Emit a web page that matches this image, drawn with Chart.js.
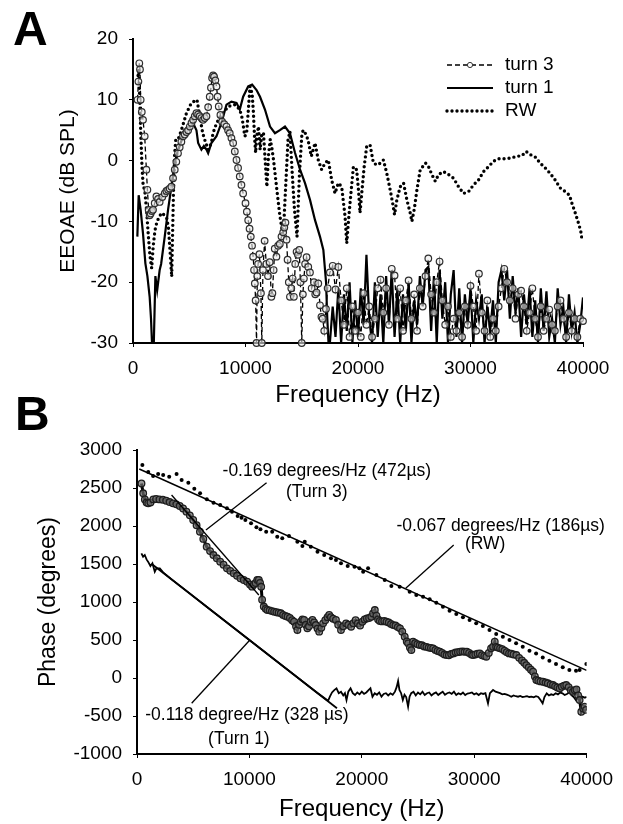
<!DOCTYPE html>
<html lang="en">
<head>
<meta charset="UTF-8">
<title>EEOAE and phase vs frequency</title>
<script src="https://cdn.jsdelivr.net/npm/chart.js"></script>
<style>
  body, html { margin: 0; padding: 0; background: #fff; width: 623px; height: 824px; overflow: hidden; }
  canvas { position: absolute; left: 0; }
  #panelA { top: 0; }
  #panelB { top: 380px; }
</style>
</head>
<body>
<canvas id="panelA" width="623" height="412"></canvas>
<canvas id="panelB" width="623" height="444"></canvas>
<script>
const FONT = '"Liberation Sans", Arial, Helvetica, sans-serif';

// ---- tick labels
const freqTicks = [0, 10000, 20000, 30000, 40000];
const dbTicks = [-30, -20, -10, 0, 10, 20];
const phaseTicks = [-1000, -500, 0, 500, 1000, 1500, 2000, 2500, 3000];

// ---- panel A: EEOAE level (dB SPL)
const freqA_noise = [17500, 17750, 18000, 18250, 18500, 18750, 19000, 19250, 19500, 19750,
  20000, 20250, 20500, 20750, 21000, 21250, 21500, 21750, 22000, 22250, 22500, 22750,
  23000, 23250, 23500, 23750, 24000, 24250, 24500, 24750, 25000, 25250, 25500, 25750,
  26000, 26250, 26500, 26750, 27000, 27250, 27500, 27750, 28000, 28250, 28500, 28750,
  29000, 29250, 29500, 29750, 30000, 30250, 30500, 30750, 31000, 31250, 31500, 31750,
  32000, 32250, 32500, 32750, 33000, 33250, 33500, 33750, 34000, 34250, 34500, 34750,
  35000, 35250, 35500, 35750, 36000, 36250, 36500, 36750, 37000, 37250, 37500, 37750,
  38000, 38250, 38500, 38750, 39000, 39250, 39500, 39750, 40000];

const freqA_turn3 = [400, 480, 560, 620, 682, 780, 890, 1040, 1190, 1280, 1390, 1480, 1570, 1680, 1780,
  1930, 2080, 2230, 2370, 2600, 2820, 2970, 3120, 3260, 3410, 3560, 3710, 3850, 4000, 4150, 4300,
  4450, 4600, 4750, 4900, 5050, 5200, 5340, 5490, 5640, 5790, 5930, 6080, 6230, 6380, 6530, 6680,
  6820, 6930, 7030, 7120, 7210, 7320, 7420, 7520, 7620, 7770, 7920, 8110, 8310, 8450, 8600, 8750,
  8900, 9050, 9200, 9340, 9490, 9640, 9790, 10000, 10120, 10240, 10360, 10470, 10580, 10680, 10760,
  10830, 10900, 10980, 11050, 11120, 11240, 11370, 11450, 11550, 11700, 11850, 12000, 12150, 12300,
  12390, 12500, 12600, 12750, 12900, 13050, 13200, 13350, 13450, 13550, 13650, 13740, 13850, 13950,
  14070, 14190, 14300, 14420, 14540, 14660, 14780, 14880, 15000, 15100, 15190, 15300, 15430, 15580,
  15730, 15880, 16080, 16200, 16320, 16470, 16620, 16750, 16860, 17000, 17150, 17300]
  .concat(freqA_noise);
const dbA_turn3 = [10, 13, 16, 15, 10, 8, 6.7, 4, -1.5, -4.8, -8.1, -9, -8.7, -8.3, -8.1,
  -7, -5.9, -6.3, -6.8, -6, -5.4, -5, -4.8, -4.6, -4.3, -2.9, -1.5, -0.2, 1.2, 2.2, 3.1,
  4, 4.3, 4.7, 5, 5.6, 6.2, 6.7, 7.3, 7.8, 7.6, 7.3, 7, 6.7, 7, 7.3, 8.8,
  10.5, 12, 13.6, 14, 13.8, 13.2, 12.2, 10.5, 8.9, 7.5, 6.4, 6, 5.6, 5, 4.5, 3.7,
  2.9, 1.5, 0.1, -1.2, -2.6, -4, -5.4, -7, -8.4, -9.8, -11.2, -12.5, -14, -15.8, -18,
  -20.2, -23, -30, -19, -17, -15.4, -21.8, -30, -18, -13.2, -17, -19, -16.7, -22.4,
  -21.8, -18, -14.5, -15.8, -14, -13.7, -12.5, -11.8, -11, -10.2, -13, -16.3, -20, -22.4,
  -21, -19.4, -22.4, -17, -15, -15.5, -14.7, -20, -30, -22, -19.4, -17, -15.9, -17.5,
  -18.4, -21, -20, -22, -21.7, -20.2, -23.8, -25.7, -26, -28, -24.4, -21,
  // 17500 - 40000
  -18.4, -17.3, -21.2, -17.5, -23, -27, -21, -29, -24, -28,
  -25, -29, -21.8, -27, -24, -29, -26, -21, -19.6, -25, -21, -27,
  -17.8, -18.9, -26, -21, -28, -23, -19.7, -26, -22, -28, -21, -24,
  -19, -16.1, -22, -25, -20, -16.6, -23, -27, -24, -29, -26, -28,
  -25, -29, -24, -27, -20.6, -24, -28, -18.6, -25, -28, -23, -29,
  -26, -28, -24, -21, -17.8, -20, -23, -21, -26, -22, -21.4, -24,
  -28, -25, -21, -26, -29, -24, -28, -26, -24.5, -27, -28, -24,
  -23, -26, -29, -25, -28, -26, -29, -26, -26.4];

const freqA_turn1 = [386, 504, 680, 890, 1100, 1280, 1480, 1600, 1690, 1850, 1990, 2150, 2370, 2500,
  2820, 3115, 3410, 3710, 4000, 4450, 4900, 5340, 5640, 5790, 6080, 6300, 6530, 6680, 6970, 7420,
  7860, 8310, 8750, 9200, 9490, 9790, 10240, 10590, 10980, 11290, 11730, 12180, 12620, 13060,
  13510, 13950, 14400, 14850, 15290, 15740, 16180, 16620, 16920, 17160, 17270, 17380]
  .concat(freqA_noise);
const dbA_turn1 = [-12.5, -5.7, -8.1, -12, -16.9, -19, -22.4, -26, -30, -30, -19, -21.3, -18, -17,
  -12.5, -8.1, -4.3, -0.4, 1.8, 4, 5, 6.2, 5, 2.9, 1.8, 2.4, 1.8, 1.2, 2.9, 4,
  6.2, 9.2, 9.7, 9.5, 8.4, 10.5, 12.2, 12.5, 11.6, 10.5, 8.4, 5.6, 4.5, 5,
  5.6, 4.5, 1.3, -1.5, -3.7, -6.5, -9.8, -12.5, -14.7, -20, -26, -30,
  // 17500 - 40000
  -30, -24, -29, -21, -30, -22, -28, -20, -30, -23,
  -29, -21, -27, -15.5, -26, -30, -20, -29, -22, -30, -19, -27,
  -18, -29, -21, -30, -22, -28, -20, -30, -23, -27, -19, -24,
  -18, -17.5, -28, -19, -30, -18, -26, -20, -30, -22, -18, -29,
  -21, -30, -22, -27, -21, -30, -23, -26, -22, -30, -24, -28,
  -23, -30, -20, -18, -23, -18, -26, -19, -25, -21, -29, -22,
  -27, -21, -29, -23, -30, -21, -28, -21.5, -29, -26, -30, -21,
  -27, -24, -30, -22, -28, -25, -30, -27, -22.5];

const freqA_rw = [450, 520, 600, 700, 800, 900, 1050, 1200, 1350, 1500, 1660, 1800, 1950, 2100, 2300,
  2560, 2800, 3000, 3150, 3300, 3440, 3520, 3600, 3700, 3800, 4000, 4300, 4750, 5190, 5690, 5930,
  6200, 6380, 6680, 6970, 7110, 7400, 7730, 8100, 8460, 9050, 9490, 9700, 9940, 10100, 10240, 10400,
  10590, 10700, 10800, 10900, 11000, 11150, 11300, 11450, 11600, 11750, 11900, 12050, 12200, 12350,
  12500, 12800, 13050, 13350, 13550, 13780, 13950, 14150, 14350, 14580, 14800, 15000, 15120, 15350,
  15560, 15850, 16180, 16470, 16770, 17070, 17360, 17660, 17960, 18250, 18550, 18850, 19000, 19150,
  19290, 19590, 19880, 20050, 20180, 20350, 20550, 20770, 21070, 21370, 21670, 21810, 22260, 22560,
  22860, 23100, 23250, 23450, 23750, 24050, 24350, 24640, 24790, 25000, 25240, 25530, 26000, 26270,
  26570, 26870, 27160, 27600, 28050, 28490, 28940, 29380, 29830, 30270, 30710, 31160, 31600, 32050,
  32490, 32940, 33530, 34120, 34560, 34950, 35300, 35750, 36190, 36640, 37080, 37530, 37970, 38420,
  38800, 39010, 39310, 39600, 39800, 39900];
const dbA_rw = [14, 15, 10, 4, -1, -4, -5, -8, -12, -15.5, -17.7, -14, -11.5, -10.3, -9.3,
  -8.6, -9, -9.5, -11, -15, -19.1, -12, -5, 1, 3.4, 3.4, 5, 7.8, 9.5, 10, 7.3,
  4.5, 3.4, 1.8, 2.9, 4.5, 6, 7.2, 8, 8.9, 9.2, 8.4, 7, 4, 4.5, 8, 12.2,
  11, 8, 4, 1.3, 4, 5.6, 1.8, 4.5, 4.5, 0, -4.3, 1, 3.5, 2,
  0, -5, -9, -12.5, -5, 3.4, 4.8, -2, -8, -12.5, -2, 4, 5, 4.4,
  3.4, 0.7, 2.9, 0.1, -1.5, -0.4, 0.1, -3.2, -5.4, -3.7, -4.3, -9.2, -13.6, -10,
  -7, -1, -1.5, -5, -8.6, -5, -1, 2.3, 2.6, -0.4, -0.7, -0.7, 0.1, -2.1,
  -4.8, -7.2, -8.9, -6.5, -4.3, -3.7, -6.5, -8.6, -10, -8, -4.8, -1.5, -0.4, -1,
  -2.3, -3.4, -2.3, -1.8, -2.3, -2.9, -4.3, -5.4, -5.1, -4, -3.2, -1.8, -1, -0.1,
  0.3, 0.3, 0.4, 0.7, 0.8, 1.5, 1, 0.6, -0.4, -1.2, -2.1, -3.2, -4.5, -5.1,
  -5.7, -7, -8.6, -10.3, -11.6, -12.8];

// ---- panel B: phase (degrees)
const freqB_turn3 = [400, 550, 700, 850, 1000, 1200, 1450, 1700, 2000, 2300, 2600, 2900, 3200, 3500,
  3800, 4100, 4400, 4700, 5000, 5300, 5600, 5900, 6200, 6500, 6800, 7100, 7400, 7700, 8000, 8300,
  8600, 8900, 9200, 9500, 9800, 10050, 10240, 10400, 10550, 10700, 10840, 10950, 11050, 11130, 11280,
  11450, 11600, 11800, 12000, 12200, 12400, 12600, 12800, 13000, 13200, 13400, 13600, 13800, 13970,
  14150, 14270, 14420, 14570, 14720, 14870, 15020, 15160, 15300, 15450, 15610, 15760, 15910, 16060,
  16210, 16400, 16560, 16750, 16950, 17100, 17250, 17450, 17700, 17900, 18150, 18350, 18600, 18800,
  19050, 19250, 19450, 19650, 19850, 20050, 20250, 20450, 20650, 20850, 21000, 21160, 21300, 21450,
  21600, 21800, 22000, 22200, 22400, 22600, 22800, 23000, 23200, 23400, 23600, 23820, 24000, 24120,
  24280, 24410, 24560, 24750, 24950, 25150, 25350, 25550, 25750, 25950, 26150, 26350, 26550, 26750,
  26950, 27150, 27350, 27550, 27750, 27950, 28150, 28350, 28550, 28750, 28950, 29150, 29350, 29550,
  29750, 29900, 30100, 30300, 30500, 30700, 30900, 31080, 31300, 31500, 31680, 31830, 31950, 32100,
  32300, 32500, 32700, 32900, 33100, 33300, 33500, 33750, 34000, 34250, 34450, 34640, 34850, 35050,
  35240, 35400, 35530, 35700, 35900, 36120, 36350, 36550, 36800, 37010, 37200, 37400, 37600, 37800,
  38000, 38190, 38400, 38600, 38790, 38950, 39100, 39250, 39380, 39530, 39700, 39830, 39950];
const phaseB_turn3 = [2560, 2430, 2350, 2310, 2300, 2310, 2350, 2355, 2350, 2345, 2333, 2315, 2298, 2285,
  2263, 2230, 2189, 2140, 2079, 2010, 1925, 1830, 1728, 1670, 1618, 1575, 1531, 1490, 1443, 1410,
  1377, 1345, 1311, 1290, 1268, 1230, 1202, 1230, 1250, 1290, 1290, 1250, 1200, 1030, 940,
  910, 895, 890, 880, 873, 865, 860, 851, 830, 815, 807, 790, 760, 741,
  680, 632, 700, 741, 770, 763, 700, 654, 680, 740, 763, 730, 697, 650,
  610, 660, 719, 760, 800, 829, 800, 780, 763, 700, 632, 680, 719, 700,
  675, 720, 760, 718, 690, 740, 770, 784, 790, 806, 850, 894, 820, 770,
  750, 745, 750, 740, 730, 710, 696, 690, 670, 653, 610, 543, 480, 456,
  400, 367, 478, 460, 445, 434, 430, 415, 410, 400, 395, 390, 370, 355,
  346, 330, 310, 302, 300, 315, 324, 335, 340, 346, 350, 345, 346, 330,
  310, 302, 310, 320, 324, 300, 290, 280, 330, 390, 412, 478, 410, 400,
  390, 380, 360, 340, 324, 320, 310, 302, 265, 230, 200, 170, 140, 110,
  82, 20, -27, -35, -45, -49, -60, -70, -85, -93, -110, -125, -137, -115,
  -100, -93, -120, -160, -180, -160, -150, -230, -290, -444, -400, -378, -420];

const freqB_turn1 = [390, 540, 690, 850, 985, 1194, 1373, 1582, 1731, 2030, 2328, 3000, 4000, 5000,
  6000, 7000, 8000, 9000, 10000, 11000, 12000, 13000, 14000, 15000, 16000, 17000, 17160, 17350,
  17550, 17750, 17950, 18150, 18350, 18500, 18640, 18800, 19000, 19200, 19400, 19600, 19800, 20000,
  20200, 20400, 20600, 20770, 20950, 21150, 21350, 21550, 21750, 21950, 22150, 22350, 22550, 22750,
  22950, 23100, 23230, 23350, 23500, 23650, 23800, 23950, 24120, 24250, 24400, 24600, 24800, 25000,
  25200, 25400, 25600, 25800, 26000, 26200, 26400, 26600, 26800, 27000, 27200, 27400, 27600, 27800,
  28000, 28200, 28400, 28600, 28800, 29000, 29200, 29400, 29600, 29800, 30000, 30200, 30400, 30600,
  30800, 31000, 31230, 31400, 31680, 31900, 32100, 32300, 32500, 32700, 32900, 33100, 33300, 33500,
  33700, 33900, 34100, 34300, 34500, 34700, 34900, 35100, 35300, 35500, 35700, 35900, 36090, 36250,
  36450, 36650, 36850, 37050, 37250, 37450, 37650, 37850, 38050, 38250, 38450, 38650, 38850, 39050,
  39250, 39450, 39650, 39850, 40000];
const phaseB_turn1 = [1640, 1596, 1618, 1560, 1531, 1474, 1509, 1399, 1443, 1443, 1390, 1308, 1192, 1077,
  960, 846, 730, 616, 500, 385, 270, 155, 40, -75, -190, -300, -246, -190,
  -160, -136, -200, -180, -230, -200, -290, -180, -136, -200, -224, -190, -215, -180,
  -210, -190, -160, -136, -246, -200, -220, -190, -246, -210, -200, -230, -202, -220,
  -180, -120, -40, -158, -200, -290, -220, -250, -378, -246, -200, -180, -230, -190,
  -215, -180, -224, -200, -190, -230, -205, -190, -224, -200, -180, -220, -200, -190,
  -210, -180, -224, -200, -215, -190, -224, -205, -200, -190, -215, -200, -224, -200,
  -210, -200, -334, -200, -158, -180, -190, -200, -215, -210, -220, -230, -246, -230,
  -240, -246, -235, -250, -246, -240, -250, -246, -255, -240, -250, -290, -334, -250,
  -202, -230, -215, -224, -200, -215, -190, -202, -224, -210, -190, -224, -250, -290,
  -260, -280, -246, -260, -246];

const freqB_rw = [478, 1000, 1433, 1880, 2328, 2866, 3522, 3970, 4567, 5100, 5612, 6209, 6806, 7403,
  8000, 8448, 8955, 9300, 9642, 10149, 10627, 10985, 11492, 12030, 12477, 12925, 13522, 14268, 14716,
  14925, 15462, 16060, 16657, 17253, 17701, 18149, 18746, 19350, 19790, 20120, 20560, 21300, 22040,
  22630, 23370, 24260, 24850, 25450, 26040, 26630, 27220, 27810, 28410, 29000, 29590, 30180, 30770,
  31360, 31960, 32550, 33140, 33730, 34320, 34920, 35510, 36100, 36690, 37280, 37880, 38470, 39060,
  39380, 39980];
const phaseB_rw = [2803, 2710, 2658, 2684, 2671, 2649, 2684, 2605, 2570, 2490, 2430, 2351, 2307, 2276,
  2232, 2189, 2132, 2110, 2079, 2035, 1982, 1956, 1925, 1925, 1860, 1838, 1868, 1794, 1737,
  1794, 1728, 1662, 1618, 1575, 1553, 1509, 1474, 1465, 1443, 1399, 1443, 1355, 1289,
  1211, 1202, 1136, 1092, 1070, 1035, 991, 938, 885, 842, 798, 763, 719, 684,
  631, 578, 543, 500, 456, 412, 359, 324, 271, 228, 184, 140, 105, 96,
  105, 184];

// linear fits (end points)
const fitFreqRW = [200, 40000], fitPhaseRW = [2750, 100];
const fitFreqT3 = [3075, 10840], fitPhaseT3 = [2408, 1092];
const fitFreqT1 = [1400, 17790], fitPhaseT1 = [1490, -399];

// annotations (data units)
const noteTexts = ['-0.169 degrees/Hz (472\u00b5s)', '(Turn 3)', '-0.067 degrees/Hz (186\u00b5s)', '(RW)',
  '-0.118 degree/Hz (328 \u00b5s)', '(Turn 1)'];
const noteFreq = [16889, 16000, 32356, 30978, 9778, 9067];
const notePhase = [2724, 2447, 2000, 1763, -487, -803];
const leaderFrom = [[6133, 1947], [23911, 1180], [4862, -333]];
const leaderTo = [[11529, 2570], [28178, 1750], [10044, 500]];

const pts = (xs, ys) => xs.map((x, i) => ({ x: x, y: ys[i] }));

function xAxis(height, titlePad) {
  return {
    type: 'linear', min: 0, max: 40000,
    afterBuildTicks: s => { s.ticks = freqTicks.map(v => ({ value: v })); },
    afterFit: s => { s.height = height; },
    border: { display: true, color: '#000', width: 2 },
    grid: { drawOnChartArea: false, drawTicks: true, tickLength: 4, color: '#000', lineWidth: 1 },
    ticks: { color: '#000', font: { family: FONT, size: 19 }, padding: 10, maxRotation: 0, autoSkip: false, callback: v => String(v) },
    title: { display: true, text: 'Frequency (Hz)', color: '#000', font: { family: FONT, size: 24 }, padding: { top: 0, bottom: titlePad } }
  };
}
function yAxis(min, max, ticks, width, title, size, titlePad) {
  return {
    type: 'linear', min: min, max: max,
    afterBuildTicks: s => { s.ticks = ticks.map(v => ({ value: v })); },
    afterFit: s => { s.width = width; },
    border: { display: true, color: '#000', width: 2 },
    grid: { drawOnChartArea: false, drawTicks: true, tickLength: 4, color: '#000', lineWidth: 1 },
    ticks: { color: '#000', font: { family: FONT, size: 19 }, padding: 11, callback: v => String(v) },
    title: { display: true, text: title, color: '#000', font: { family: FONT, size: size }, padding: { top: titlePad, bottom: 0 } }
  };
}

const extrasA = {
  id: 'extrasA',
  afterDraw(chart) {
    const ctx = chart.ctx;
    ctx.save();
    ctx.fillStyle = '#000';
    ctx.font = 'bold 48px ' + FONT;
    ctx.textBaseline = 'alphabetic';
    ctx.fillText('A', 13, 45);
    chart.data.datasets.forEach((ds, i) => {
      const y = 65 + 23 * i;
      ctx.beginPath();
      ctx.setLineDash(ds.borderDash || []);
      ctx.lineCap = ds.borderCapStyle || 'butt';
      ctx.lineWidth = ds.borderWidth;
      ctx.strokeStyle = '#000';
      ctx.moveTo(447, y);
      ctx.lineTo(493, y);
      ctx.stroke();
      ctx.setLineDash([]);
      if (ds.pointRadius > 0) {
        ctx.beginPath();
        ctx.arc(470, y, 2.6, 0, Math.PI * 2);
        ctx.fillStyle = '#fff';
        ctx.fill();
        ctx.lineWidth = 1;
        ctx.strokeStyle = '#333';
        ctx.stroke();
      }
      ctx.fillStyle = '#000';
      ctx.font = '19px ' + FONT;
      ctx.textBaseline = 'middle';
      ctx.fillText(ds.label, 505, y);
    });
    ctx.restore();
  }
};

const extrasB = {
  id: 'extrasB',
  afterDraw(chart) {
    const { ctx, scales: { x, y } } = chart;
    ctx.save();
    ctx.fillStyle = '#000';
    ctx.font = 'bold 48px ' + FONT;
    ctx.textBaseline = 'alphabetic';
    ctx.fillText('B', 15, 50);
    ctx.strokeStyle = '#000';
    ctx.lineWidth = 1.3;
    leaderFrom.forEach((p, i) => {
      ctx.beginPath();
      ctx.moveTo(x.getPixelForValue(p[0]), y.getPixelForValue(p[1]));
      ctx.lineTo(x.getPixelForValue(leaderTo[i][0]), y.getPixelForValue(leaderTo[i][1]));
      ctx.stroke();
    });
    ctx.font = '17.5px ' + FONT;
    ctx.textAlign = 'center';
    ctx.textBaseline = 'middle';
    noteTexts.forEach((t, i) => ctx.fillText(t, x.getPixelForValue(noteFreq[i]), y.getPixelForValue(notePhase[i])));
    ctx.restore();
  }
};

Chart.defaults.font.family = FONT;
Chart.defaults.color = '#000';

new Chart(document.getElementById('panelA'), {
  type: 'scatter',
  data: {
    datasets: [
      { label: 'turn 3', data: pts(freqA_turn3, dbA_turn3), showLine: true, borderColor: '#000', borderWidth: 1.3,
        borderDash: [5, 3], pointRadius: 3.3, pointBorderColor: '#2e2e2e', pointBackgroundColor: 'rgba(235,235,235,0.6)',
        pointBorderWidth: 1.2, clip: 4 },
      { label: 'turn 1', data: pts(freqA_turn1, dbA_turn1), showLine: true, borderColor: '#000', borderWidth: 2.2,
        pointRadius: 0 },
      { label: 'RW', data: pts(freqA_rw, dbA_rw), showLine: true, borderColor: '#000', borderWidth: 3.4,
        borderDash: [0, 5], borderCapStyle: 'round', pointRadius: 0 }
    ]
  },
  options: {
    responsive: false, animation: false,
    layout: { padding: { left: 0, top: 39, right: 40, bottom: 0 } },
    scales: { x: xAxis(69, 2), y: yAxis(-30, 20, dbTicks, 133, 'EEOAE (dB SPL)', 21, 56) },
    plugins: { legend: { display: false }, tooltip: { enabled: false } },
    events: []
  },
  plugins: [extrasA]
});

new Chart(document.getElementById('panelB'), {
  type: 'scatter',
  data: {
    datasets: [
      { label: 'RW fit', data: pts(fitFreqRW, fitPhaseRW), showLine: true, borderColor: '#000', borderWidth: 1.5, pointRadius: 0 },
      { label: 'Turn 3 fit', data: pts(fitFreqT3, fitPhaseT3), showLine: true, borderColor: '#000', borderWidth: 1.3, pointRadius: 0 },
      { label: 'Turn 1 fit', data: pts(fitFreqT1, fitPhaseT1), showLine: true, borderColor: '#000', borderWidth: 1.8, pointRadius: 0 },
      { label: 'RW', data: pts(freqB_rw, phaseB_rw), showLine: false, pointRadius: 2, pointBackgroundColor: '#000', pointBorderWidth: 0 },
      { label: 'turn 3', data: pts(freqB_turn3, phaseB_turn3), showLine: true, borderColor: '#000', borderWidth: 3,
        pointRadius: 3.3, pointBorderColor: '#1e1e1e', pointBackgroundColor: 'rgba(110,110,110,0.7)', pointBorderWidth: 1.3 },
      { label: 'turn 1', data: pts(freqB_turn1, phaseB_turn1), showLine: true, borderColor: '#000', borderWidth: 1.8, pointRadius: 0 }
    ]
  },
  options: {
    responsive: false, animation: false,
    layout: { padding: { left: 0, top: 70, right: 36, bottom: 0 } },
    scales: { x: xAxis(70, 0), y: yAxis(-1000, 3000, phaseTicks, 137, 'Phase (degrees)', 23, 35) },
    plugins: { legend: { display: false }, tooltip: { enabled: false } },
    events: []
  },
  plugins: [extrasB]
});
</script>
</body>
</html>
